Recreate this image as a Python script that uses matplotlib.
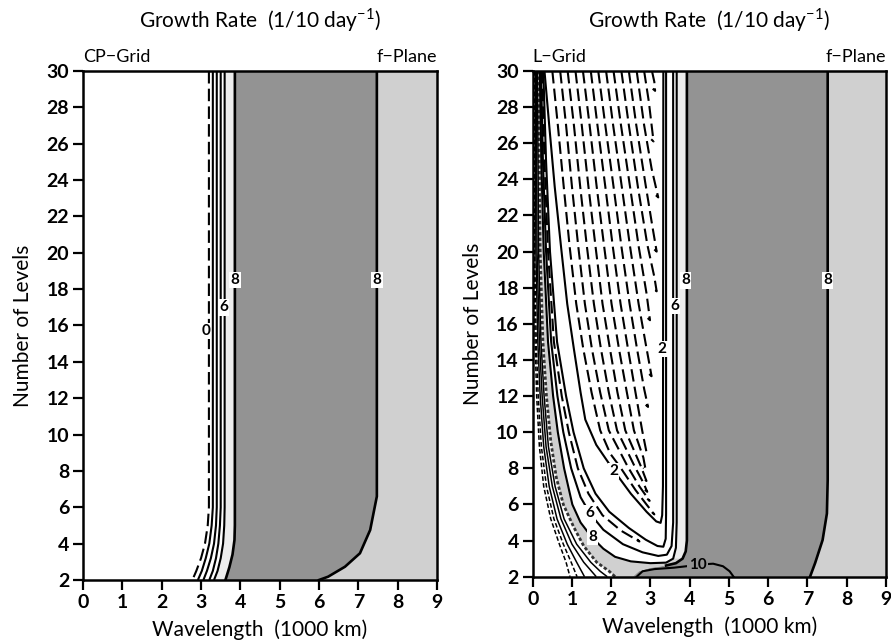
import matplotlib.pyplot as plt

plt.rcParams['font.family'] = ['Lato', 'DejaVu Sans']
plt.rcParams['mathtext.fontset'] = 'custom'
plt.rcParams['mathtext.rm'] = 'Lato'

DARK = '#939393'
LIGHT = '#d0d0d0'
PALE = '#ededed'

x_ticks = list(range(0, 10))
y_ticks = list(range(2, 31, 2))

# ---------------- left panel (CP-Grid) : contour lines
cp_dashed = [[(3.20, 30), (3.20, 6), (3.17, 5), (3.10, 4), (3.00, 3.2), (2.88, 2.5), (2.78, 2.0)]]
cp_solid = [
    [(3.30, 30), (3.30, 6), (3.27, 5), (3.21, 4), (3.12, 3.2), (3.02, 2.5), (2.92, 2.0)],
    [(3.40, 30), (3.40, 6), (3.38, 5), (3.33, 4), (3.25, 3.2), (3.15, 2.5), (3.06, 2.0)],
    [(3.50, 30), (3.50, 6), (3.48, 5), (3.44, 4), (3.38, 3.2), (3.30, 2.5), (3.21, 2.0)],
    [(3.60, 30), (3.60, 6), (3.59, 5), (3.56, 4), (3.50, 3.2), (3.42, 2.5), (3.33, 2.0)],
]
cp_eight_left = [(3.86, 30), (3.86, 5), (3.85, 4.2), (3.80, 3.4), (3.72, 2.7), (3.62, 2.0)]
cp_eight_right = [(7.47, 30), (7.47, 6.6), (7.30, 4.75), (7.04, 3.47), (6.66, 2.73), (6.23, 2.18), (6.00, 2.0)]
cp_labels = [("0", 3.12, 15.7), ("6", 3.57, 17.0), ("8", 3.86, 18.5), ("8", 7.47, 18.5)]

# ---------------- right panel (L-Grid)
lg_outer_dashed = [
    [(0.025, 30), (0.03, 20), (0.06, 15), (0.10, 12), (0.17, 9.2), (0.28, 7), (0.46, 5.2), (0.68, 3.8), (0.85, 2.8), (0.95, 2.0)],
    [(0.045, 30), (0.05, 20), (0.09, 15), (0.14, 12), (0.22, 9.2), (0.35, 7), (0.54, 5.2), (0.78, 3.8), (0.98, 2.8), (1.13, 2.0)],
]
lg_hatched = [(0.15, 30), (0.19, 20), (0.26, 15), (0.35, 12), (0.46, 9.5), (0.60, 7.5), (0.78, 6), (1.04, 4.77),
              (1.30, 3.7), (1.63, 2.8), (1.95, 2.3), (2.10, 2.0)]
lg_outer_solid = [
    [(0.07, 30), (0.08, 20), (0.13, 15), (0.19, 12), (0.28, 9.2), (0.42, 7), (0.62, 5.2), (0.88, 3.8), (1.12, 2.8), (1.32, 2.0)],
    [(0.09, 30), (0.11, 20), (0.17, 15), (0.24, 12), (0.34, 9.2), (0.50, 7), (0.72, 5.2), (1.00, 3.8), (1.30, 2.8), (1.62, 2.0)],
    [(0.12, 30), (0.15, 20), (0.21, 15), (0.29, 12), (0.40, 9.2), (0.57, 7), (0.80, 5.2), (1.12, 3.8), (1.48, 2.8), (1.72, 2.3), (1.90, 2.0)],
]
lg_v_solid = [
    # labelled 8
    [(0.18, 30), (0.22, 25), (0.28, 20), (0.39, 15), (0.52, 12), (0.64, 10), (0.80, 8), (1.01, 6), (1.22, 5), (1.50, 4.2),
     (1.80, 3.55), (2.10, 3.1), (2.50, 2.85), (3.00, 2.75), (3.40, 2.78), (3.58, 3.0), (3.65, 3.6), (3.67, 5), (3.67, 30)],
    # labelled 6
    [(0.21, 30), (0.26, 25), (0.34, 20), (0.47, 15), (0.63, 12), (0.78, 10), (0.98, 8), (1.22, 6.4), (1.46, 5.5), (1.80, 4.6),
     (2.30, 3.8), (2.80, 3.35), (3.20, 3.15), (3.42, 3.22), (3.54, 3.7), (3.58, 5), (3.58, 30)],
    [(0.27, 30), (0.34, 25), (0.44, 20), (0.62, 15), (0.85, 12), (1.04, 10), (1.30, 8), (1.60, 6.6), (1.95, 5.6), (2.45, 4.7),
     (2.88, 4.05), (3.18, 3.7), (3.33, 3.66), (3.39, 4.1), (3.40, 5.5), (3.40, 30)],
    # labelled 2
    [(0.30, 30), (0.42, 27), (0.56, 23.6), (0.72, 20.3), (0.88, 17.1), (1.05, 14.6), (1.22, 12.2), (1.34, 10.7), (1.62, 9.3),
     (2.06, 7.9), (2.50, 6.6), (2.90, 5.6), (3.15, 5.06), (3.26, 4.98), (3.30, 5.4), (3.32, 7), (3.33, 30)],
]
lg_hook_dashed = [
    [(0.24, 30), (0.30, 25), (0.39, 20), (0.54, 15), (0.74, 12), (0.92, 10), (1.15, 8), (1.42, 6.6), (1.78, 5.4), (2.25, 4.55),
     (2.72, 3.95), (2.66, 4.07)],
    [(0.50, 30), (0.64, 27), (0.79, 23.6), (0.94, 20.3), (1.11, 17.1), (1.29, 14.6), (1.50, 12.2), (1.72, 10.1), (1.98, 8.8),
     (2.22, 8.1), (2.62, 6.8), (2.90, 6.0), (3.10, 5.45), (3.04, 5.57)],
    [(0.70, 30), (0.85, 27), (1.00, 23.6), (1.16, 20.3), (1.33, 17.1), (1.51, 14.6), (1.72, 12.2), (1.94, 10.1), (2.42, 8.1),
     (2.72, 7.0), (2.98, 6.2), (2.92, 6.32)],
    [(0.89, 30), (1.05, 27), (1.21, 23.6), (1.38, 20.3), (1.56, 17.1), (1.74, 14.6), (1.94, 12.2), (2.15, 10.1), (2.60, 8.1),
     (2.82, 7.2), (2.92, 6.7), (2.86, 6.82)],
    [(1.09, 30), (1.25, 27), (1.42, 23.6), (1.60, 20.3), (1.78, 17.1), (1.97, 14.6), (2.16, 12.2), (2.36, 10.1), (2.76, 8.1),
     (2.90, 7.3), (2.84, 7.42)],
    [(1.28, 30), (1.45, 27), (1.63, 23.6), (1.82, 20.3), (2.01, 17.1), (2.20, 14.6), (2.40, 12.2), (2.58, 10.1), (2.82, 8.6),
     (2.88, 7.9), (2.82, 8.02)],
    [(1.48, 30), (1.65, 27), (1.85, 23.6), (2.04, 20.3), (2.24, 17.1), (2.43, 14.6), (2.62, 12.2), (2.79, 10.1), (2.90, 8.9),
     (2.84, 9.02)],
    [(1.67, 30), (1.85, 27), (2.06, 23.6), (2.26, 20.3), (2.47, 17.1), (2.66, 14.6), (2.84, 12.4), (2.94, 11.4), (2.88, 11.52)],
    [(1.87, 30), (2.05, 27), (2.27, 23.6), (2.48, 20.3), (2.70, 17.1), (2.88, 14.9), (3.03, 13.1), (2.97, 13.22)],
    [(2.06, 30), (2.25, 27), (2.48, 23.6), (2.70, 20.3), (2.90, 17.7), (2.99, 16.2), (2.93, 16.32)],
    [(2.26, 30), (2.45, 27), (2.68, 23.6), (2.92, 20.4), (3.10, 18.6), (3.16, 17.8), (3.10, 17.92)],
    [(2.45, 30), (2.64, 27), (2.87, 23.8), (3.05, 21.4), (3.16, 20.0), (3.10, 20.12)],
    [(2.65, 30), (2.84, 27), (3.03, 24.6), (3.20, 23.0), (3.14, 23.12)],
    [(2.84, 30), (2.96, 28.3), (3.08, 26.1), (3.02, 26.22)],
    [(3.04, 30), (3.10, 29.4), (3.12, 28.9), (3.06, 29.02)],
]
lg_dark_edge = [(3.93, 30), (3.93, 4), (3.90, 3.4), (3.82, 3.0), (3.65, 2.75), (3.40, 2.62)]
lg_dark_bottom = [(3.00, 2.5), (2.70, 2.3), (2.55, 2.0)]
lg_ten = [(2.65, 2.0), (2.80, 2.3), (3.10, 2.42), (3.60, 2.5), (4.00, 2.6), (4.30, 2.68), (4.60, 2.72), (4.85, 2.58),
          (5.02, 2.3), (5.12, 2.0)]
lg_eight_right = [(7.52, 30), (7.52, 7.35), (7.50, 5.5), (7.39, 4.03), (7.20, 2.76), (7.07, 2.0)]
lg_labels = [("2", 3.30, 14.6), ("6", 3.62, 17.0), ("8", 3.90, 18.4), ("8", 7.52, 18.4),
             ("2", 2.06, 7.85), ("6", 1.46, 5.5), ("8", 1.52, 4.2)]


def xs(pts):
    return [p[0] for p in pts]


def ys(pts):
    return [p[1] for p in pts]


def style_axes(ax, grid_name):
    ax.set_xlim(0, 9)
    ax.set_ylim(2, 30)
    ax.set_xticks(x_ticks)
    ax.set_yticks(y_ticks)
    ax.tick_params(direction='out', length=7, width=1.6, labelsize=14, pad=3)
    for lab in ax.get_xticklabels() + ax.get_yticklabels():
        lab.set_fontweight('bold')
    for sp in ax.spines.values():
        sp.set_linewidth(1.8)
        sp.set_zorder(7)
    ax.text(0.5, 1.1, r'Growth Rate  (1/10 day$^{-1}$)', transform=ax.transAxes,
            ha='center', va='center', fontsize=15)
    ax.text(0.0, 1.028, grid_name, transform=ax.transAxes, ha='left', va='center', fontsize=13)
    ax.text(1.0, 1.028, 'f\u2212Plane', transform=ax.transAxes, ha='right', va='center', fontsize=13)
    ax.text(0.5, -0.098, 'Wavelength  (1000 km)', transform=ax.transAxes,
            ha='center', va='center', fontsize=15)
    ax.text(-0.17, 0.5, 'Number of Levels', transform=ax.transAxes, rotation=90,
            ha='center', va='center', fontsize=15)


def clabel(ax, txt, x, y, bg='white'):
    ax.text(x, y, txt, ha='center', va='center', fontsize=11, fontweight='bold', zorder=6,
            bbox=dict(boxstyle='square,pad=0.08', fc=bg, ec='none'))


fig = plt.figure(figsize=(8.91, 6.43), dpi=100)
ax1 = fig.add_axes([0.0932, 0.098, 0.3973, 0.7916])
ax2 = fig.add_axes([0.5979, 0.1031, 0.3962, 0.7865])

solid_kw = dict(color='black', lw=1.5, solid_capstyle='butt', zorder=4)
thin_kw = dict(color='black', lw=1.1, solid_capstyle='butt', zorder=4)
dash_kw = dict(color='black', lw=1.5, dashes=(6, 2.5), zorder=4)
thin_dash_kw = dict(color='black', lw=1.1, dashes=(3, 1.5), zorder=4)

# ---- left
ax = ax1
strip = cp_solid[-1] + cp_eight_left[::-1]
ax.fill(xs(strip), ys(strip), color=PALE, lw=0, zorder=1)
dark = cp_eight_left + cp_eight_right[::-1]
ax.fill(xs(dark), ys(dark), color=DARK, lw=0, zorder=1)
light = cp_eight_right + [(9, 2), (9, 30)]
ax.fill(xs(light), ys(light), color=LIGHT, lw=0, zorder=1)
for ln in cp_dashed:
    ax.plot(xs(ln), ys(ln), **dash_kw)
for ln in cp_solid:
    ax.plot(xs(ln), ys(ln), **solid_kw)
ax.plot(xs(cp_eight_left), ys(cp_eight_left), color='black', lw=1.9, zorder=4)
ax.plot(xs(cp_eight_right), ys(cp_eight_right), color='black', lw=1.9, zorder=4)
for t, x, y in cp_labels:
    clabel(ax, t, x, y)
style_axes(ax, 'CP\u2212Grid')

# ---- right
ax = ax2
dark_poly = lg_dark_edge + lg_dark_bottom + lg_eight_right[::-1]
ax.fill(xs(dark_poly), ys(dark_poly), color=DARK, lw=0, zorder=1)
light_poly = lg_eight_right + [(9, 2), (9, 30)]
ax.fill(xs(light_poly), ys(light_poly), color=LIGHT, lw=0, zorder=1)
eight_v = lg_v_solid[0]
band = lg_hatched + lg_dark_bottom[::-1] + lg_dark_edge[::-1][:4] + eight_v[::-1][3:]
ax.fill(xs(band), ys(band), color=LIGHT, lw=0, zorder=1)
strip = [(3.67, 30), (3.93, 30)] + lg_dark_edge[1:4] + [(3.58, 3.0), (3.65, 3.6), (3.67, 5)]
ax.fill(xs(strip), ys(strip), color=PALE, lw=0, zorder=1)

for ln in lg_outer_dashed:
    ax.plot(xs(ln), ys(ln), **thin_dash_kw)
ax.plot(xs(lg_hatched), ys(lg_hatched), color='#333333', lw=2.0, dashes=(1.2, 0.8), zorder=4)
for ln in lg_outer_solid:
    ax.plot(xs(ln), ys(ln), **thin_kw)
for ln in lg_v_solid:
    ax.plot(xs(ln), ys(ln), **solid_kw)
for ln in lg_hook_dashed:
    ax.plot(xs(ln), ys(ln), **dash_kw)
ax.plot(xs(lg_dark_edge), ys(lg_dark_edge), color='black', lw=1.9, zorder=4)
ax.plot(xs(lg_ten), ys(lg_ten), color='black', lw=1.5, zorder=4)
ax.plot(xs(lg_eight_right), ys(lg_eight_right), color='black', lw=1.9, zorder=4)
for t, x, y in lg_labels:
    clabel(ax, t, x, y)
clabel(ax, "10", 4.2, 2.66, bg=DARK)
style_axes(ax, 'L\u2212Grid')

fig.savefig('out.png', dpi=100)
